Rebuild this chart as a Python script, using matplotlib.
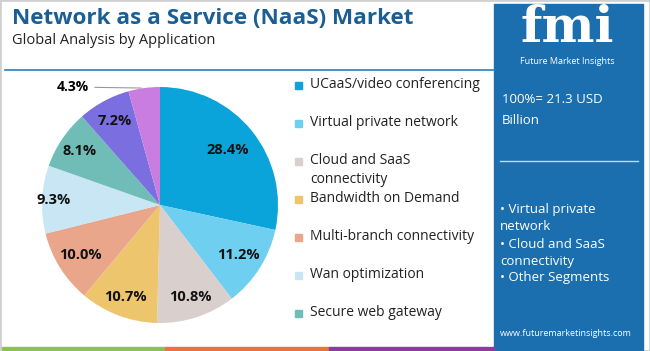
import matplotlib
matplotlib.use('Agg')
import matplotlib.pyplot as plt
from matplotlib.patches import Rectangle
import numpy as np

plt.rcParams['font.family'] = ['Open Sans', 'DejaVu Sans']

segments = ['UCaaS/video conferencing', 'Virtual private network', 'Cloud and SaaS\nconnectivity',
            'Bandwidth on Demand', 'Multi-branch connectivity', 'Wan optimization',
            'Secure web gateway', 'Other', 'Others']
shares = [28.4, 11.2, 10.8, 10.7, 10.0, 9.3, 8.1, 7.2, 4.3]
colors = ['#0aa3da', '#6fcff1', '#d9cfcc', '#ecc56d', '#e9a68b', '#c9e6f5', '#6fbdb6', '#7b6ee0', '#c97de1']
legend_rows = 7
bullets = ['• Virtual private\nnetwork', '• Cloud and SaaS\nconnectivity', '• Other Segments']

W, H = 650, 351
fig = plt.figure(figsize=(W / 100, H / 100), dpi=100)

def fx(x):
    return x / W

def fy(y):
    return 1 - y / H

# border and decoration
fig.patches.append(Rectangle((0, 0), 1, 1, transform=fig.transFigure, fill=False, ec='#d0d0d0', lw=2))
fig.patches.append(Rectangle((fx(494), 0), fx(149), fy(4), transform=fig.transFigure, color='#1b6fae', zorder=1))
for x0, x1, c in [(2, 165, '#8cc152'), (165, 329, '#e8743b'), (329, 494, '#8e3b9e')]:
    fig.patches.append(Rectangle((fx(x0), fy(350)), fx(x1 - x0), 3 / H, transform=fig.transFigure, color=c))
fig.lines.append(plt.Line2D([fx(5), fx(494)], [fy(70), fy(70)], transform=fig.transFigure, color='#2a7fb8', lw=1.2))

fig.text(fx(12), fy(18), 'Network as a Service (NaaS) Market', fontsize=16.2, fontweight='bold',
         color='#1a5e94', va='center')
fig.text(fx(12), fy(40), 'Global Analysis by Application', fontsize=10.5, color='#222222', va='center')

# pie
cx, cy, r = 160, 205, 118
ax = fig.add_axes([fx(cx - r), fy(cy + r), 2 * r / W, 2 * r / H])
wedges, _ = ax.pie(shares, colors=colors, startangle=90, counterclock=False,
                   wedgeprops=dict(linewidth=0))
ax.set_aspect('equal')
ax.set_xlim(-1, 1)
ax.set_ylim(-1, 1)
dist = [0.74, 0.79, 0.82, 0.83, 0.8, 0.9, 0.82, 0.81]
ang = 90
for i, v in enumerate(shares):
    mid = np.deg2rad(ang - v * 3.6 / 2)
    ang -= v * 3.6
    if i == len(shares) - 1:
        ax.annotate(f'{v}%', xy=(np.cos(mid) * 1.0, np.sin(mid) * 1.0), xytext=(-0.6, 1.0),
                    ha='right', va='center', fontsize=10, fontweight='bold', annotation_clip=False,
                    arrowprops=dict(arrowstyle='-', color='#999999', lw=0.8))
        continue
    ax.text(np.cos(mid) * dist[i], np.sin(mid) * dist[i], f'{v}%', ha='center', va='center',
            fontsize=10.5, fontweight='bold', color='#111111')

# legend
ys = [85, 123, 170, 199, 237, 275, 313]
for i in range(legend_rows):
    y = ys[i]
    sq = 161 if i == 2 else y
    fig.patches.append(Rectangle((fx(295), fy(sq + 4)), 7 / W, 7 / H, transform=fig.transFigure,
                                 color=colors[i]))
    fig.text(fx(310), fy(y), segments[i], fontsize=10, color='#222222', va='center',
             linespacing=1.45)

# right panel
fig.text(fx(567), fy(28), 'fmi', fontsize=36, fontweight='bold', color='white', ha='center', va='center',
         family='DejaVu Serif')
fig.text(fx(567), fy(62), 'Future Market Insights', fontsize=6.5, color='white', ha='center', va='center')
fig.text(fx(502), fy(110), '100%= 21.3 USD\nBillion', fontsize=9.5, color='white', va='center',
         linespacing=1.75)
fig.lines.append(plt.Line2D([fx(500), fx(638)], [fy(161), fy(161)], transform=fig.transFigure,
                            color='#c8d8e8', lw=1))
fig.text(fx(500), fy(244), '\n'.join(bullets), fontsize=9.5, color='white', va='center', linespacing=1.4)
fig.text(fx(566), fy(334), 'www.futuremarketinsights.com', fontsize=6.5, color='white', ha='center',
         va='center')

fig.savefig('out.png', dpi=100)
